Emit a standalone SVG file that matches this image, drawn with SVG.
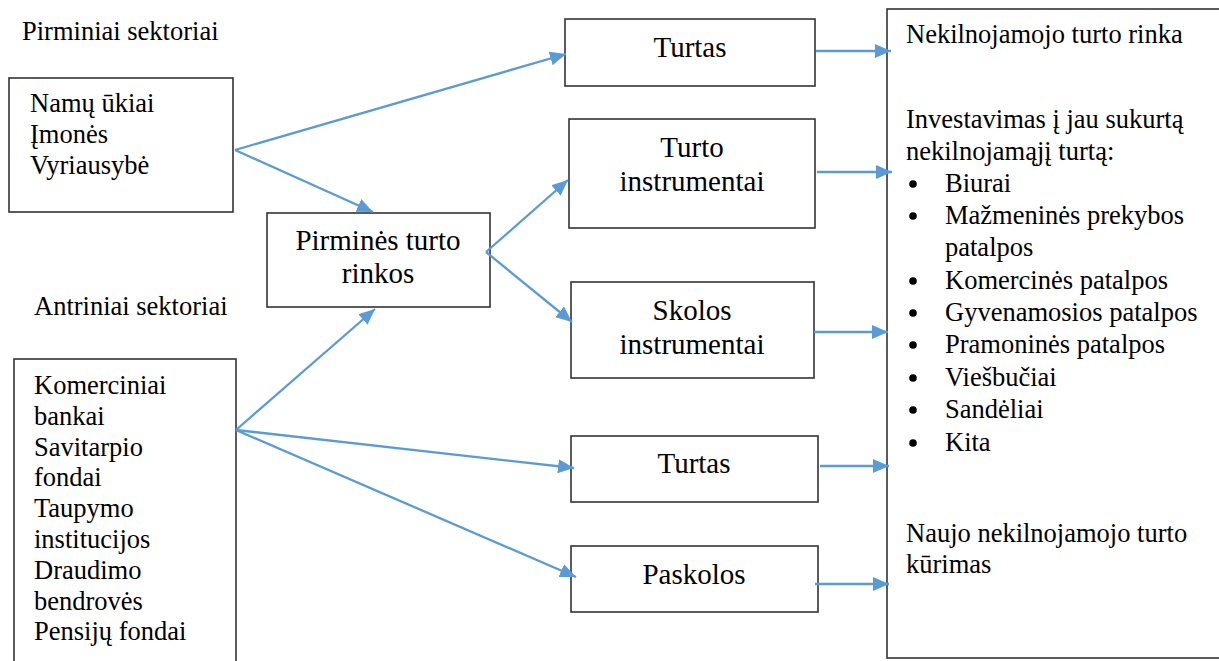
<svg xmlns="http://www.w3.org/2000/svg" width="1219" height="661" viewBox="0 0 1219 661" font-family="Liberation Serif, DejaVu Serif, serif">
<style>
.box{fill:#fff;stroke:#333;stroke-width:1.6}
.t{font-size:26.5px;fill:#000}
.lbl{font-size:29px;fill:#000;text-anchor:middle}
.c{stroke:#5B9BD5;stroke-width:2.3;fill:none;marker-end:url(#ah)}
</style>
<defs>
<marker id="ah" markerUnits="userSpaceOnUse" markerWidth="17" markerHeight="15" refX="16" refY="7" orient="auto">
<path d="M0,0 L16,7 L0,14 z" fill="#5B9BD5"/>
</marker>
</defs>
<rect width="1219" height="661" fill="#fff"/>
<text class="t" x="22" y="40" font-family="Liberation Serif">Pirminiai sektoriai</text>
<text class="t" x="34" y="315" font-family="Liberation Serif">Antriniai sektoriai</text>
<g id="namu" font-family="Liberation Serif">
<rect class="box" x="9" y="78" width="224" height="134"/>
<text class="t" x="30" y="112">Namų ūkiai</text>
<text class="t" x="30" y="143">Įmonės</text>
<text class="t" x="30" y="174">Vyriausybė</text>
</g>
<g id="antriniai" font-family="Liberation Serif">
<rect class="box" x="14" y="359" width="222" height="330"/>
<text class="t" x="34" y="394">Komerciniai</text>
<text class="t" x="34" y="425">bankai</text>
<text class="t" x="34" y="456">Savitarpio</text>
<text class="t" x="34" y="486">fondai</text>
<text class="t" x="34" y="517">Taupymo</text>
<text class="t" x="34" y="548">institucijos</text>
<text class="t" x="34" y="579">Draudimo</text>
<text class="t" x="34" y="610">bendrovės</text>
<text class="t" x="34" y="640">Pensijų fondai</text>
</g>
<g id="pirmines" font-family="Liberation Serif">
<rect class="box" x="267" y="213" width="223" height="94"/>
<text class="lbl" x="378" y="250">Pirminės turto</text>
<text class="lbl" x="378" y="283">rinkos</text>
</g>
<g id="turtas1" font-family="Liberation Serif">
<rect class="box" x="565" y="19" width="250" height="67"/>
<text class="lbl" x="690" y="57">Turtas</text>
</g>
<g id="turto-instr" font-family="Liberation Serif">
<rect class="box" x="569" y="119" width="246" height="109"/>
<text class="lbl" x="692" y="157">Turto</text>
<text class="lbl" x="692" y="191">instrumentai</text>
</g>
<g id="skolos" font-family="Liberation Serif">
<rect class="box" x="571" y="282" width="243" height="96"/>
<text class="lbl" x="692" y="320">Skolos</text>
<text class="lbl" x="692" y="354">instrumentai</text>
</g>
<g id="turtas2" font-family="Liberation Serif">
<rect class="box" x="571" y="436" width="247" height="66"/>
<text class="lbl" x="694" y="473">Turtas</text>
</g>
<g id="paskolos" font-family="Liberation Serif">
<rect class="box" x="571" y="546" width="247" height="66"/>
<text class="lbl" x="694" y="584">Paskolos</text>
</g>
<g id="rinka" font-family="Liberation Serif">
<rect class="box" x="887" y="9" width="340" height="649"/>
<text class="t" x="906" y="43">Nekilnojamojo turto rinka</text>
<text class="t" x="906" y="128">Investavimas į jau sukurtą</text>
<text class="t" x="906" y="160">nekilnojamąjį turtą:</text>
<g fill="#000">
<circle cx="913" cy="184" r="3.8"/>
<circle cx="913" cy="216" r="3.8"/>
<circle cx="913" cy="281" r="3.8"/>
<circle cx="913" cy="313" r="3.8"/>
<circle cx="913" cy="345" r="3.8"/>
<circle cx="913" cy="378" r="3.8"/>
<circle cx="913" cy="410" r="3.8"/>
<circle cx="913" cy="443" r="3.8"/>
</g>
<text class="t" x="945" y="192">Biurai</text>
<text class="t" x="945" y="224">Mažmeninės prekybos</text>
<text class="t" x="945" y="256">patalpos</text>
<text class="t" x="945" y="289">Komercinės patalpos</text>
<text class="t" x="945" y="321">Gyvenamosios patalpos</text>
<text class="t" x="945" y="353">Pramoninės patalpos</text>
<text class="t" x="945" y="386">Viešbučiai</text>
<text class="t" x="945" y="418">Sandėliai</text>
<text class="t" x="945" y="451">Kita</text>
<text class="t" x="906" y="542">Naujo nekilnojamojo turto</text>
<text class="t" x="906" y="573">kūrimas</text>
</g>
<g id="connectors">
<line class="c" x1="235" y1="150" x2="566" y2="54"/>
<line class="c" x1="235" y1="150" x2="373" y2="212"/>
<line class="c" x1="486" y1="252" x2="568" y2="180"/>
<line class="c" x1="486" y1="252" x2="572" y2="322"/>
<line class="c" x1="236" y1="430" x2="375" y2="309"/>
<line class="c" x1="236" y1="430" x2="574" y2="468"/>
<line class="c" x1="236" y1="430" x2="576" y2="577"/>
<line class="c" x1="816" y1="51" x2="891" y2="51"/>
<line class="c" x1="817" y1="172" x2="892" y2="172"/>
<line class="c" x1="814" y1="332" x2="888" y2="332"/>
<line class="c" x1="820" y1="466" x2="889" y2="466"/>
<line class="c" x1="815" y1="584" x2="889" y2="584"/>
</g>
</svg>
